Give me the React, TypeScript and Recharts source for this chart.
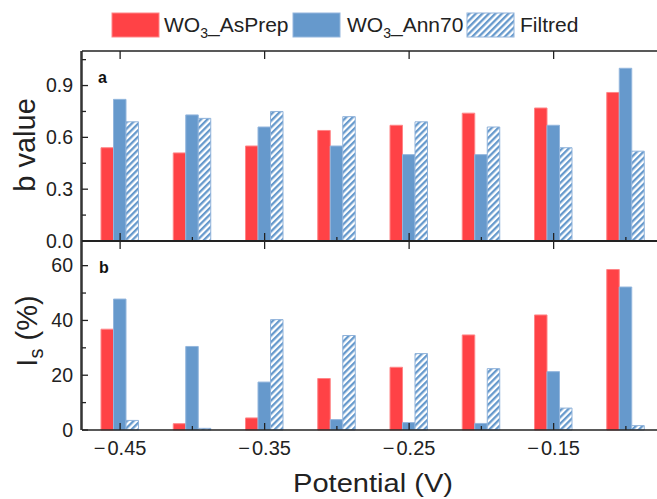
import React from 'react';
import { BarChart, Bar, XAxis, YAxis, ReferenceLine } from 'recharts';

// potential (V) categories, labelled every other one
const potentials = ['-0.45', '-0.40', '-0.35', '-0.30', '-0.25', '-0.20', '-0.15', '-0.10'];
const labelledPotentials = ['-0.45', '-0.35', '-0.25', '-0.15'];

// panel a: b value
const bAsPrep = [0.54, 0.51, 0.55, 0.64, 0.67, 0.74, 0.77, 0.86];
const bAnn70 = [0.82, 0.73, 0.66, 0.55, 0.50, 0.50, 0.67, 1.0];
const bFiltred = [0.69, 0.71, 0.75, 0.72, 0.69, 0.66, 0.54, 0.52];

// panel b: Is (%)
const isAsPrep = [36.8, 2.3, 4.4, 18.8, 22.9, 34.7, 42.0, 58.6];
const isAnn70 = [47.8, 30.5, 17.5, 3.8, 2.7, 2.4, 21.3, 52.2];
const isFiltred = [3.5, 0.6, 40.3, 34.5, 27.9, 22.4, 8.0, 1.6];

const bTicks = [0, 0.15, 0.3, 0.45, 0.6, 0.75, 0.9, 1.05];
const bLabelled = [0, 0.3, 0.6, 0.9];
const isTicks = [0, 10, 20, 30, 40, 50, 60];
const isLabelled = [0, 20, 40, 60];

const RED = '#ff4246';
const BLUE = '#6699cc';
const AXIS = '#222';
const FONT = '"Liberation Sans", Arial, sans-serif';

// both panels share one plot area: a on top, b below
const PLOT_TOP = 51;
const PLOT_BOTTOM = 430;
const SPLIT = 241;
const bMax = 1.1;
const isMax = 69;
const bDomain = [bMax - (bMax * (PLOT_BOTTOM - PLOT_TOP)) / (SPLIT - PLOT_TOP), bMax];
const isDomain = [0, (isMax * (PLOT_BOTTOM - PLOT_TOP)) / (PLOT_BOTTOM - SPLIT)];

const data = potentials.map((p, i) => ({
  p,
  bAsPrep: bAsPrep[i], bAnn70: bAnn70[i], bFiltred: bFiltred[i],
  isAsPrep: isAsPrep[i], isAnn70: isAnn70[i], isFiltred: isFiltred[i],
}));

const tickLine = (d: string) => <path d={d} stroke={AXIS} strokeWidth={1.3} fill="none" />;

// top frame ticks plus the ticks on the shared middle line
const topTick = (props: any) => {
  const { x, y, payload } = props;
  const major = labelledPotentials.includes(payload.value);
  return (
    <g>
      {major && tickLine(`M${x},${y}V${y + 8}`)}
      {tickLine(`M${x},${SPLIT}V${SPLIT - (major ? 8 : 4)}`)}
      {major && tickLine(`M${x},${SPLIT}V${SPLIT + 8}`)}
    </g>
  );
};

const bottomTick = (props: any) => {
  const { x, y, payload } = props;
  const major = labelledPotentials.includes(payload.value);
  return (
    <g>
      {tickLine(`M${x},${y}V${y - (major ? 7 : 4)}`)}
      {major && (
        <text x={x} y={y + 25} textAnchor="middle" fontSize={20} fill="#222" fontFamily={FONT}>
          {'\u2212'}
          <tspan dx={2}>{payload.value.slice(1)}</tspan>
        </text>
      )}
    </g>
  );
};

const yTick = (labelled: number[], digits: number) => (props: any) => {
  const { y, payload } = props;
  const x = 82;
  const major = labelled.includes(payload.value);
  return (
    <g>
      {tickLine(`M${x},${y}H${x + (major ? 6 : 4)}`)}
      {major && (
        <text x={x - 9} y={y} dy="0.35em" textAnchor="end" fontSize={19.5} fill="#222" fontFamily={FONT}>
          {payload.value.toFixed(digits)}
        </text>
      )}
    </g>
  );
};

const axisLine = { stroke: AXIS, strokeWidth: 1.4 };

export default function App() {
  return (
    <div style={{ position: 'absolute', left: 0, top: 0, width: 657, height: 499, overflow: 'hidden', background: '#fff' }}>
      <svg width={0} height={0} style={{ position: 'absolute' }}>
        <defs>
          <pattern id="hatch" patternUnits="userSpaceOnUse" width={4.6} height={4.6} patternTransform="rotate(45)">
            <rect width={4.6} height={4.6} fill="#fff" />
            <rect width={2.3} height={4.6} fill={BLUE} />
          </pattern>
        </defs>
      </svg>
      <div style={{ position: 'absolute', left: 0, top: 0 }}>
        <BarChart width={700} height={499} data={data} margin={{ top: PLOT_TOP - 1, right: 38, bottom: 499 - PLOT_BOTTOM - 1, left: 0 }} barGap={0} barSize={12.5}>
          <XAxis xAxisId="a" orientation="top" dataKey="p" height={1} padding={{ left: 2, right: 0 }} interval={0} tickSize={0} tickMargin={0} tickLine={false} axisLine={axisLine} tick={topTick} />
          <XAxis xAxisId="b" orientation="bottom" dataKey="p" height={1} padding={{ left: 2, right: 0 }} interval={0} tickSize={0} tickMargin={0} tickLine={false} axisLine={axisLine} tick={bottomTick} />
          <YAxis yAxisId="a" width={1} domain={bDomain} ticks={bTicks} interval={0} tickSize={0} tickMargin={0} tickLine={false} axisLine={axisLine} tick={yTick(bLabelled, 1)} />
          <YAxis yAxisId="b" width={81} domain={isDomain} ticks={isTicks} interval={0} tickSize={0} tickMargin={0} tickLine={false} axisLine={axisLine} tick={yTick(isLabelled, 0)} />
          <Bar xAxisId="a" yAxisId="a" dataKey="bAsPrep" fill={RED} stroke="#ff8587" strokeWidth={1} isAnimationActive={false} />
          <Bar xAxisId="a" yAxisId="a" dataKey="bAnn70" fill={BLUE} stroke="#93b6dd" strokeWidth={1} isAnimationActive={false} />
          <Bar xAxisId="a" yAxisId="a" dataKey="bFiltred" fill="url(#hatch)" stroke="#8fb2da" strokeWidth={1} isAnimationActive={false} />
          <Bar xAxisId="b" yAxisId="b" dataKey="isAsPrep" fill={RED} stroke="#ff8587" strokeWidth={1} isAnimationActive={false} />
          <Bar xAxisId="b" yAxisId="b" dataKey="isAnn70" fill={BLUE} stroke="#93b6dd" strokeWidth={1} isAnimationActive={false} />
          <Bar xAxisId="b" yAxisId="b" dataKey="isFiltred" fill="url(#hatch)" stroke="#8fb2da" strokeWidth={1} isAnimationActive={false} />
          <ReferenceLine xAxisId="a" yAxisId="a" y={0} stroke={AXIS} strokeWidth={2} />
        </BarChart>
      </div>
      <svg width={657} height={499} style={{ position: 'absolute', left: 0, top: 0, pointerEvents: 'none' }} fontFamily={FONT}>
        <rect x={112} y={13} width={47} height={24} fill={RED} stroke="#ff8587" />
        <text x={164} y={32} fontSize={21} fill="#222">
          WO<tspan fontSize={14} dy={6}>3</tspan><tspan dy={-6}>_AsPrep</tspan>
        </text>
        <rect x={293} y={13} width={47} height={24} fill={BLUE} stroke="#93b6dd" />
        <text x={347} y={32} fontSize={21} fill="#222">
          WO<tspan fontSize={14} dy={6}>3</tspan><tspan dy={-6}>_Ann70</tspan>
        </text>
        <rect x={467} y={13} width={47} height={24} fill="url(#hatch)" stroke="#8fb2da" />
        <text x={520} y={32} fontSize={21} fill="#222">Filtred</text>
        <text x={98} y={83} fontSize={16} fontWeight="bold" fill="#111">a</text>
        <text x={99} y={273} fontSize={16} fontWeight="bold" fill="#111">b</text>
        <text x={35} y={145} transform="rotate(-90 35 145)" textAnchor="middle" fontSize={29} fill="#222">b value</text>
        <text x={37} y={331} transform="rotate(-90 37 331)" textAnchor="middle" fontSize={29} fill="#222">
          I<tspan fontSize={20} dy={6}>s</tspan><tspan dy={-6}> (%)</tspan>
        </text>
        <text x={373} y={492} textAnchor="middle" fontSize={26} textLength={160} lengthAdjust="spacingAndGlyphs" fill="#222">Potential (V)</text>
      </svg>
    </div>
  );
}
